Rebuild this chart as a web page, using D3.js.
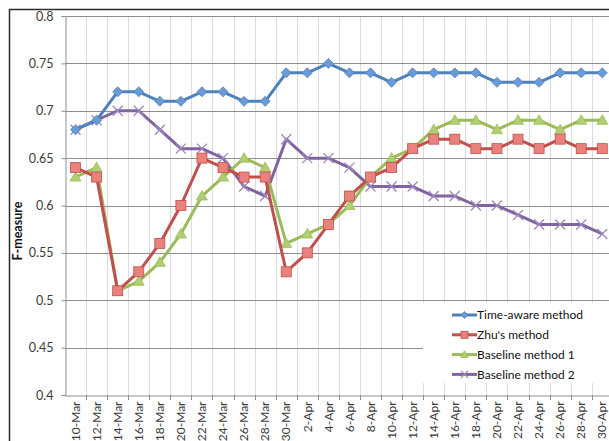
<!DOCTYPE html>
<html>
<head>
<meta charset="utf-8">
<script src="https://cdn.jsdelivr.net/npm/d3@7"></script>
<style>
  html, body { margin: 0; padding: 0; background: #fff; }
  svg { display: block; font-family: Lato, "Open Sans", sans-serif; }
</style>
</head>
<body>
<svg id="chart" width="609" height="441"></svg>
<script>
const dates = ["10-Mar","12-Mar","14-Mar","16-Mar","18-Mar","20-Mar","22-Mar","24-Mar","26-Mar","28-Mar",
  "30-Mar","2-Apr","4-Apr","6-Apr","8-Apr","10-Apr","12-Apr","14-Apr","16-Apr","18-Apr",
  "20-Apr","22-Apr","24-Apr","26-Apr","28-Apr","30-Apr"];
const timeAware = [0.68,0.69,0.72,0.72,0.71,0.71,0.72,0.72,0.71,0.71,0.74,0.74,0.75,0.74,0.74,0.73,0.74,0.74,0.74,0.74,0.73,0.73,0.73,0.74,0.74,0.74];
const zhu = [0.64,0.63,0.51,0.53,0.56,0.60,0.65,0.64,0.63,0.63,0.53,0.55,0.58,0.61,0.63,0.64,0.66,0.67,0.67,0.66,0.66,0.67,0.66,0.67,0.66,0.66];
const baseline1 = [0.63,0.64,0.51,0.52,0.54,0.57,0.61,0.63,0.65,0.64,0.56,0.57,0.58,0.60,0.63,0.65,0.66,0.68,0.69,0.69,0.68,0.69,0.69,0.68,0.69,0.69];
const baseline2 = [0.68,0.69,0.70,0.70,0.68,0.66,0.66,0.65,0.62,0.61,0.67,0.65,0.65,0.64,0.62,0.62,0.62,0.61,0.61,0.60,0.60,0.59,0.58,0.58,0.58,0.57];
const yTicks = [0.4,0.45,0.5,0.55,0.6,0.65,0.7,0.75,0.8];

const series = [
  {name: "Time-aware method", values: timeAware, line: "#4F81BD", fill: "#6A9BD8", marker: "diamond"},
  {name: "Zhu's method", values: zhu, line: "#C0504D", fill: "#E9817D", marker: "square"},
  {name: "Baseline method 1", values: baseline1, line: "#9BBB59", fill: "#B0CF70", marker: "triangle"},
  {name: "Baseline method 2", values: baseline2, line: "#8064A2", fill: "#9C88BE", marker: "cross"}
];

const svg = d3.select("#chart");
const plotLeft = 65, plotTop = 16, plotBottom = 395, bw = 21.07;

const x = d3.scaleBand().domain(dates).range([plotLeft, plotLeft + dates.length * bw]).padding(0);
const cx = d => x(d) + x.bandwidth() / 2;
const y = d3.scaleLinear().domain([0.4, 0.8]).range([plotBottom, plotTop]);

// outer chart frame
svg.append("rect")
  .attr("x", 9.5).attr("y", 9.5).attr("width", 640).attr("height", 460)
  .attr("fill", "none").attr("stroke", "#2b2b2b").attr("stroke-width", 1.5);

// vertical gridlines between categories
svg.append("g").selectAll("line")
  .data(dates.slice(1))
  .join("line")
  .attr("x1", d => Math.round(x(d)) + 0.5).attr("x2", d => Math.round(x(d)) + 0.5)
  .attr("y1", plotTop).attr("y2", plotBottom)
  .attr("stroke", "#dcdcdc");

// horizontal gridlines
svg.append("g").selectAll("line")
  .data(yTicks.slice(1))
  .join("line")
  .attr("x1", plotLeft).attr("x2", 609)
  .attr("y1", d => Math.round(y(d)) + 0.5).attr("y2", d => Math.round(y(d)) + 0.5)
  .attr("stroke", "#8e8e8e");

// y axis
const yAxis = svg.append("g")
  .attr("transform", `translate(${plotLeft + 0.5},0)`)
  .call(d3.axisLeft(y).tickValues(yTicks).tickFormat(d => String(+d.toFixed(2))).tickSize(4).tickPadding(8));
yAxis.select(".domain").attr("stroke", "#8e8e8e");
yAxis.selectAll(".tick line").attr("stroke", "#8e8e8e");
yAxis.selectAll("text").attr("fill", "#3a3a3a").style("font-size", "12.5px")
  .style("font-family", "Lato, sans-serif");

// x axis
const xAxis = svg.append("g")
  .attr("transform", `translate(0,${plotBottom + 0.5})`)
  .call(d3.axisBottom(x).tickSize(0).tickPadding(0));
xAxis.select(".domain").attr("stroke", "#8e8e8e");
xAxis.selectAll(".tick text")
  .attr("transform", "rotate(-90)")
  .attr("x", -6).attr("y", 0).attr("dy", "0.35em")
  .attr("text-anchor", "end")
  .attr("fill", "#3a3a3a")
  .style("font-size", "12px")
  .style("font-family", "Lato, sans-serif");
// small tick marks between categories
svg.append("g").selectAll("line")
  .data(dates.slice(1))
  .join("line")
  .attr("x1", d => Math.round(x(d)) + 0.5).attr("x2", d => Math.round(x(d)) + 0.5)
  .attr("y1", plotBottom).attr("y2", plotBottom + 5)
  .attr("stroke", "#8e8e8e");

// y label
svg.append("text")
  .attr("transform", "translate(22,231) rotate(-90)")
  .attr("text-anchor", "middle")
  .style("font-size", "12.5px").style("font-weight", "bold")
  .attr("fill", "#111")
  .text("F-measure");

function drawMarker(g, type, s, fill, stroke) {
  if (type === "diamond") {
    g.append("path").attr("d", `M0,${-s}L${s},0L0,${s}L${-s},0Z`)
      .attr("fill", fill).attr("stroke", stroke).attr("stroke-width", 0.8);
  } else if (type === "square") {
    g.append("rect").attr("x", -s).attr("y", -s).attr("width", 2 * s).attr("height", 2 * s)
      .attr("fill", fill).attr("stroke", stroke).attr("stroke-width", 0.8);
  } else if (type === "triangle") {
    g.append("path").attr("d", `M0,${-s * 1.1}L${s * 1.1},${s * 0.8}L${-s * 1.1},${s * 0.8}Z`)
      .attr("fill", fill).attr("stroke", stroke).attr("stroke-width", 0.8);
  } else {
    g.append("path").attr("d", `M${-s},${-s}L${s},${s}M${-s},${s}L${s},${-s}`)
      .attr("stroke", fill).attr("stroke-width", 1.3).attr("fill", "none");
  }
}

const line = d3.line().x(d => cx(d.date)).y(d => y(d.v));

// draw series in reverse so time-aware is on top like Excel
[...series].reverse().forEach(s => {
  const pts = dates.map((d, i) => ({date: d, v: s.values[i]}));
  const g = svg.append("g");
  g.append("path").datum(pts)
    .attr("d", line)
    .attr("fill", "none")
    .attr("stroke", s.line)
    .attr("stroke-width", 3)
    .attr("stroke-linejoin", "round");
  g.selectAll("g.m").data(pts).join("g").attr("class", "m")
    .attr("transform", d => `translate(${cx(d.date)},${y(d.v)})`)
    .each(function() { drawMarker(d3.select(this), s.marker, 5, s.fill, s.line); });
});

// legend
const legend = svg.append("g");
legend.append("rect").attr("x", 423).attr("y", 303).attr("width", 190).attr("height", 80).attr("fill", "#fff");
series.forEach((s, i) => {
  const ly = 315 + i * 19.8;
  const g = legend.append("g");
  g.append("line").attr("x1", 452).attr("x2", 477).attr("y1", ly).attr("y2", ly)
    .attr("stroke", s.line).attr("stroke-width", 3);
  const m = g.append("g").attr("transform", `translate(464.5,${ly})`);
  drawMarker(m, s.marker, 3.5, s.fill, s.line);
  g.append("text").attr("x", 477).attr("y", ly).attr("dy", "0.36em")
    .style("font-size", "12px").attr("fill", "#111").text(s.name);
});
</script>
</body>
</html>
